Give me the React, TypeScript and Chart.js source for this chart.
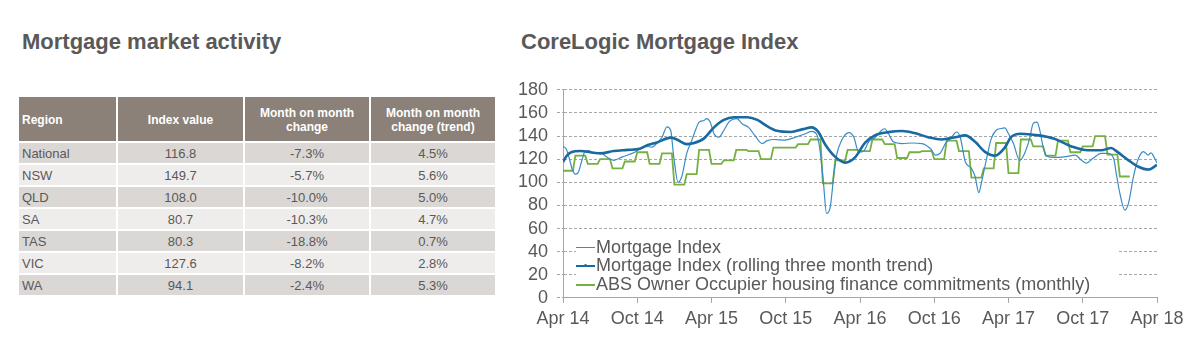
import React, { useEffect, useRef } from 'react';
import { Chart, registerables } from 'chart.js';

Chart.register(...registerables);

// ---------- Chart data ----------
const xTickLabels = ['Apr 14', 'Oct 14', 'Apr 15', 'Oct 15', 'Apr 16', 'Oct 16', 'Apr 17', 'Oct 17', 'Apr 18'];
const yTickValues = [0, 20, 40, 60, 80, 100, 120, 140, 160, 180];

// Mortgage Index (months since Apr 14, value)
const indexMonths = [0, 0.25, 0.5, 0.75, 1.0, 1.25, 1.5, 1.8, 2.1, 2.5, 3.0, 3.5, 4.1, 4.8, 5.8, 6.6, 7.2, 7.6, 8.0, 8.4, 8.7, 8.95, 9.3, 9.6, 10.0, 10.4, 10.7, 11.0, 11.4, 11.6, 11.9, 12.2, 12.6, 13.0, 13.4, 14.05, 14.5, 15.0, 15.5, 16.1, 16.5, 17.1, 17.9, 18.8, 19.6, 20.1, 20.5, 20.8, 21.05, 21.3, 21.6, 21.9, 22.1, 22.5, 23.1, 23.5, 23.9, 24.3, 24.7, 25.2, 25.8, 26.0, 26.3, 26.7, 27.4, 28.2, 29.0, 29.7, 30.1, 30.5, 30.9, 31.4, 31.8, 32.1, 32.5, 33.0, 33.3, 33.6, 33.8, 34.2, 34.6, 35.0, 35.4, 35.7, 36.0, 36.4, 36.9, 37.3, 37.7, 38.0, 38.3, 38.5, 38.8, 39.1, 39.7, 40.5, 41.4, 41.9, 42.3, 42.8, 43.5, 44.0, 44.5, 44.7, 45.0, 45.4, 45.7, 46.1, 46.5, 46.9, 47.3, 47.5, 48.0];
const indexValues = [131, 129, 121, 111, 107, 109, 118, 127, 127.5, 125, 126, 122, 119, 122, 126, 131, 130.5, 134, 139, 148, 145, 122, 100, 105, 125, 136, 145, 152, 153.5, 155, 152, 142, 139, 145, 152, 155, 150.5, 147.5, 140.5, 133.5, 136, 137, 136.5, 139, 142, 144, 141.5, 125, 99, 73, 79, 108, 123, 136, 143, 139, 126, 127, 135, 138.5, 145.5, 146.3, 142, 135, 133.5, 134, 133.5, 129, 123.5, 125.5, 133.5, 139, 143.5, 139, 118, 112, 105, 91, 99, 119, 137.5, 145, 146.5, 147, 142, 133.5, 119, 125, 137.5, 151, 152, 146.5, 130.5, 122.5, 121.5, 122, 123.5, 119, 116.5, 120.5, 125, 125, 120.5, 108, 90.5, 76, 82, 105, 120.5, 126.5, 123.5, 125.5, 116.8];

// Mortgage Index (rolling three month trend)
const trendMonths = [0, 0.3, 0.7, 1.4, 2.5, 3.0, 4.1, 5.2, 6.2, 6.8, 7.6, 8.7, 9.2, 10.0, 10.5, 11.4, 12.2, 13.0, 13.8, 14.9, 15.7, 16.5, 17.3, 18.4, 19.4, 20.1, 20.6, 21.2, 22.0, 22.8, 23.6, 24.4, 25.2, 26.3, 27.4, 28.4, 29.5, 30.6, 31.7, 32.5, 33.3, 34.1, 34.9, 35.7, 36.2, 37.0, 38.4, 39.7, 41.1, 42.4, 43.5, 44.3, 44.8, 45.7, 46.5, 47.3, 48.0];
const trendValues = [117.5, 123, 126.3, 127, 125.5, 125, 127, 128, 129, 132, 134.5, 138.6, 137, 133, 133.7, 138, 147.5, 154, 156.3, 156.3, 154, 148.5, 144.5, 143.5, 146, 147.5, 144, 132.5, 122, 117, 121.5, 134, 140.6, 143.4, 144.3, 142.6, 139, 137, 139, 140.6, 135, 126.3, 123, 130, 139, 142, 140.6, 137.7, 131, 127.7, 127.7, 129.7, 126.3, 119, 113.4, 111, 115];

// ABS Owner Occupier housing finance commitments (monthly, from Apr 14)
const absValues = [110, 123, 116, 120, 112, 118, 126, 116, 125, 98, 107, 128, 116, 119, 128, 127, 120, 130, 130, 133, 137, 99, 119, 128, 127, 137, 133, 121, 126, 127, 120, 136, 127, 104, 112, 134, 108, 137, 131, 123, 136, 126, 131, 140, 124, 105];

const seriesNames = [
  'Mortgage Index',
  'Mortgage Index (rolling three month trend)',
  'ABS Owner Occupier housing finance commitments (monthly)',
];

// ---------- Table data ----------
const tableHeaders = ['Region', 'Index value', 'Month on month\nchange', 'Month on month\nchange (trend)'];
const regions = ['National', 'NSW', 'QLD', 'SA', 'TAS', 'VIC', 'WA'];
const indexValueCol = ['116.8', '149.7', '108.0', '80.7', '80.3', '127.6', '94.1'];
const momChangeCol = ['-7.3%', '-5.7%', '-10.0%', '-10.3%', '-18.8%', '-8.2%', '-2.4%'];
const momTrendCol = ['4.5%', '5.6%', '5.0%', '4.7%', '0.7%', '2.8%', '5.3%'];

const FONT = '"Liberation Sans", Arial, sans-serif';
const TEXT = '#595959';
const C_INDEX = '#3a8cc4';
const C_TREND = '#1a6aa2';
const C_ABS = '#76b041';
const GRID = '#a6a6a6';

function ChartPanel() {
  const ref = useRef<HTMLCanvasElement | null>(null);
  useEffect(() => {
    if (!ref.current) return;
    const absPoints: { x: number; y: number }[] = [];
    absValues.forEach((v, k) => {
      absPoints.push({ x: k, y: v });
      absPoints.push({ x: k + 0.8, y: v });
    });
    const chart = new Chart(ref.current, {
      type: 'line',
      data: {
        datasets: [
          {
            label: seriesNames[1],
            data: trendMonths.map((m, i) => ({ x: m, y: trendValues[i] })),
            borderColor: C_TREND,
            borderWidth: 2.6,
            pointRadius: 0,
            cubicInterpolationMode: 'monotone',
          },
          {
            label: seriesNames[0],
            data: indexMonths.map((m, i) => ({ x: m, y: indexValues[i] })),
            borderColor: C_INDEX,
            borderWidth: 1.2,
            pointRadius: 0,
            cubicInterpolationMode: 'monotone',
          },
          {
            label: seriesNames[2],
            data: absPoints,
            borderColor: C_ABS,
            borderWidth: 1.8,
            pointRadius: 0,
            tension: 0,
          },
        ],
      },
      options: {
        animation: false,
        responsive: false,
        maintainAspectRatio: false,
        layout: { padding: { top: 16, right: 38, bottom: 3.5, left: 0 } },
        plugins: { legend: { display: false }, tooltip: { enabled: false } },
        scales: {
          x: {
            type: 'linear',
            min: 0,
            max: 48,
            afterBuildTicks: (s: any) => {
              s.ticks = xTickLabels.map((_, i) => ({ value: i * 6 }));
            },
            ticks: {
              autoSkip: false,
              maxRotation: 0,
              padding: 5,
              color: TEXT,
              font: { family: FONT, size: 18 },
              callback: (v: any) => xTickLabels[Math.round(Number(v) / 6)] ?? '',
            },
            grid: { drawOnChartArea: false, color: GRID, tickLength: 5 },
            border: { color: GRID, width: 1 },
          },
          y: {
            type: 'linear',
            min: 0,
            max: 180,
            afterFit: (s: any) => {
              s.width = 58;
            },
            afterBuildTicks: (s: any) => {
              s.ticks = yTickValues.map((v) => ({ value: v }));
            },
            ticks: {
              autoSkip: false,
              padding: 9,
              color: TEXT,
              font: { family: FONT, size: 18 },
            },
            grid: { color: GRID, tickLength: 6, tickBorderDash: [3, 2] },
            border: { color: GRID, width: 1, dash: [3, 2] },
          },
        },
      },
    });
    return () => chart.destroy();
  }, []);
  return (
    <canvas
      ref={ref}
      width={690}
      height={268}
      style={{ position: 'absolute', left: 505, top: 70, width: 690, height: 268, display: 'block' }}
    />
  );
}

function Legend() {
  const rows = [
    { name: seriesNames[0], color: C_INDEX, h: 1, dot: false },
    { name: seriesNames[1], color: C_TREND, h: 2, dot: true },
    { name: seriesNames[2], color: C_ABS, h: 2, dot: false },
  ];
  return (
    <div
      style={{
        position: 'absolute',
        left: 576,
        top: 237.6,
        width: 541,
        height: 57,
        background: '#ffffff',
      }}
    >
      {rows.map((r, i) => (
        <div key={i} style={{ position: 'relative', height: 18.8, lineHeight: '19px', whiteSpace: 'nowrap' }}>
          <div
            style={{
              position: 'absolute',
              left: 0,
              top: 9.5 - r.h / 2,
              width: 19,
              height: r.h,
              background: r.color,
            }}
          />
          {r.dot && (
            <div
              style={{
                position: 'absolute',
                left: 8,
                top: 7.5,
                width: 3,
                height: 3,
                borderRadius: 2,
                background: r.color,
              }}
            />
          )}
          <span
            style={{
              position: 'absolute',
              left: 20,
              top: 0,
              fontFamily: FONT,
              fontSize: 18,
              color: TEXT,
            }}
          >
            {r.name}
          </span>
        </div>
      ))}
    </div>
  );
}

function Table() {
  const cols = [regions, indexValueCol, momChangeCol, momTrendCol];
  const cellBase: React.CSSProperties = {
    display: 'flex',
    alignItems: 'center',
    justifyContent: 'center',
    textAlign: 'center',
    fontFamily: FONT,
    boxSizing: 'border-box',
  };
  return (
    <div
      style={{
        position: 'absolute',
        left: 19,
        top: 97,
        display: 'grid',
        gridTemplateColumns: '97px 125px 124px 124px',
        gridTemplateRows: '44px repeat(7, 20px)',
        gap: 2,
      }}
    >
      {tableHeaders.map((h, i) => (
        <div
          key={'h' + i}
          style={{
            ...cellBase,
            background: '#8b8178',
            color: '#ffffff',
            fontWeight: 'bold',
            fontSize: 12,
            lineHeight: '14px',
            whiteSpace: 'pre-line',
            justifyContent: i === 0 ? 'flex-start' : 'center',
            paddingLeft: i === 0 ? 3 : 0,
            paddingTop: 2,
          }}
        >
          {h}
        </div>
      ))}
      {regions.map((_, r) =>
        cols.map((col, c) => (
          <div
            key={r + '-' + c}
            style={{
              ...cellBase,
              background: r % 2 === 0 ? '#dbd7d5' : '#efedec',
              color: TEXT,
              fontSize: 13,
              justifyContent: c === 0 ? 'flex-start' : 'center',
              paddingLeft: c === 0 ? 3 : 0,
            }}
          >
            {col[r]}
          </div>
        ))
      )}
    </div>
  );
}

export default function App() {
  const titleStyle: React.CSSProperties = {
    position: 'absolute',
    top: 31,
    fontFamily: FONT,
    fontWeight: 'bold',
    fontSize: 22,
    lineHeight: '22px',
    color: TEXT,
    whiteSpace: 'nowrap',
  };
  return (
    <div style={{ position: 'absolute', left: 0, top: 0, width: 1195, height: 350, background: '#ffffff', overflow: 'hidden' }}>
      <div style={{ ...titleStyle, left: 22 }}>Mortgage market activity</div>
      <div style={{ ...titleStyle, left: 521 }}>CoreLogic Mortgage Index</div>
      <Table />
      <ChartPanel />
      <Legend />
    </div>
  );
}
